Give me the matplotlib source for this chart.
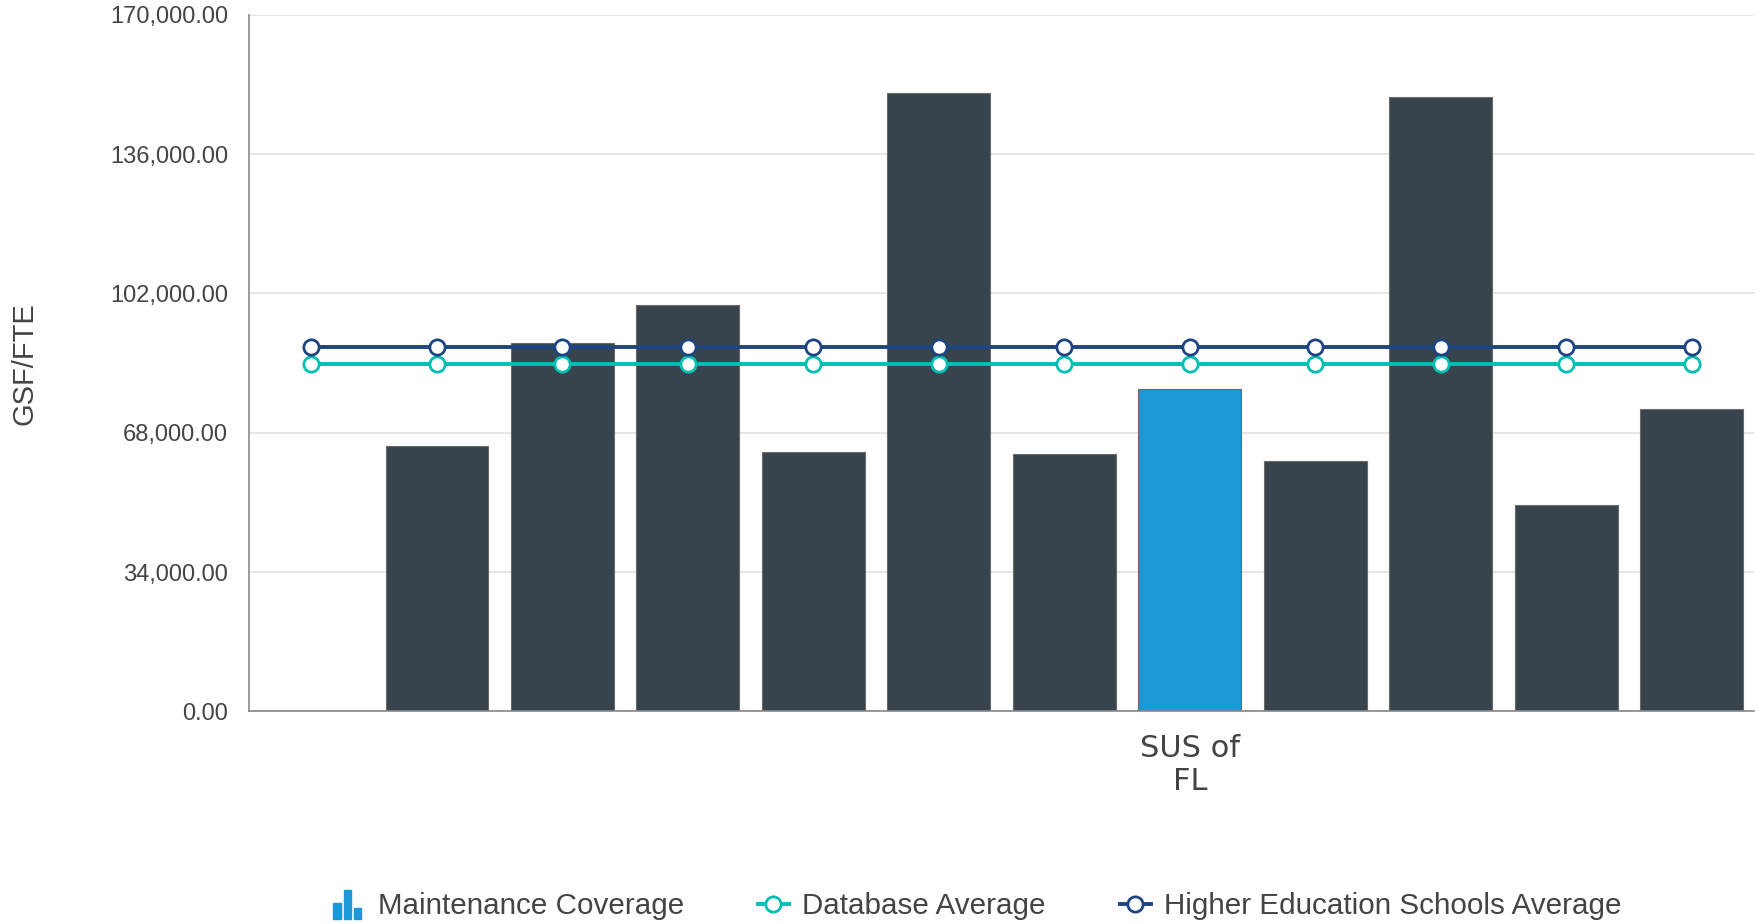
import numpy as np
import matplotlib
matplotlib.use("Agg")
import matplotlib.pyplot as plt
from matplotlib.lines import Line2D
from matplotlib.patches import Rectangle
from matplotlib.legend_handler import HandlerBase

# data
categories = ["", "", "", "", "", "", "", "SUS of\nFL", "", "", "", ""]
maintenance = [None, 64900, 90000, 99200, 63400, 151000, 62900, 78700, 61200, 149900, 50300, 73800]
highlight = 7
database_avg = [84800] * 12
higher_ed_avg = [88900] * 12
y_ticks = [0, 34000, 68000, 102000, 136000, 170000]

dark = "#37444d"
blue = "#1b98d5"
teal = "#00bfb3"
navy = "#1f4482"

plt.rcParams["font.family"] = ["Liberation Sans", "DejaVu Sans"]

fig = plt.figure(figsize=(17.58, 9.24), dpi=100)
ax = fig.add_axes([0.1415, 0.230, 0.8565, 0.754])

x = np.arange(len(categories))
for i, v in enumerate(maintenance):
    if v is None:
        continue
    ax.bar(x[i], v, width=0.82, color=blue if i == highlight else dark,
           edgecolor="#6a6a6a", linewidth=0.8, zorder=2)

ax.plot(x, database_avg, color=teal, lw=2.8, marker="o", ms=11,
        mfc="white", mec=teal, mew=2.0, zorder=4)
ax.plot(x, higher_ed_avg, color=navy, lw=2.8, marker="o", ms=11,
        mfc="white", mec=navy, mew=2.0, zorder=4)

ax.set_xlim(-0.5, len(categories) - 0.5)
ax.set_ylim(0, 170000)
ax.set_yticks(y_ticks)
ax.set_yticklabels([f"{t:,.2f}" for t in y_ticks], fontsize=17, color="#444444")
ax.set_xticks(x)
ax.set_xticklabels(categories, fontsize=22, color="#444444",
                   family=["DejaVu Sans"], linespacing=1.2)
ax.tick_params(axis="both", length=0)
ax.tick_params(axis="y", pad=15)
ax.tick_params(axis="x", pad=16)
ax.grid(axis="y", color="#e2e2e2", lw=1.2, zorder=0)
ax.set_axisbelow(True)
for s in ["top", "right"]:
    ax.spines[s].set_visible(False)
ax.spines["left"].set_color("#888888")
ax.spines["bottom"].set_color("#888888")
ax.spines["left"].set_linewidth(1.2)
ax.spines["bottom"].set_linewidth(1.2)

fig.text(0.014, 0.607, "GSF/FTE", rotation=90, fontsize=21, color="#444444",
         ha="center", va="center")


class BarIcon(HandlerBase):
    def create_artists(self, legend, orig, xd, yd, w, h, fontsize, trans):
        hs = [0.55, 1.0, 0.35]
        bw = w / 4.2
        arts = []
        for k, hh in enumerate(hs):
            arts.append(Rectangle((xd + k * bw * 1.4, yd - h * 0.2), bw, h * 1.4 * hh,
                                  color=blue, transform=trans))
        return arts


handles = [
    Rectangle((0, 0), 1, 1, color=blue),
    Line2D([], [], color=teal, lw=2.8, marker="o", ms=11, mfc="white", mec=teal, mew=2.0),
    Line2D([], [], color=navy, lw=2.8, marker="o", ms=11, mfc="white", mec=navy, mew=2.0),
]
labels = ["Maintenance Coverage", "Database Average", "Higher Education Schools Average"]
fig.legend(handles, labels, loc="center", bbox_to_anchor=(0.556, 0.019), ncol=3,
           frameon=False, fontsize=21.3, labelcolor="#444444", handlelength=1.05,
           handletextpad=0.45, columnspacing=2.5,
           handler_map={handles[0]: BarIcon()})

fig.savefig("out.png", dpi=100)
